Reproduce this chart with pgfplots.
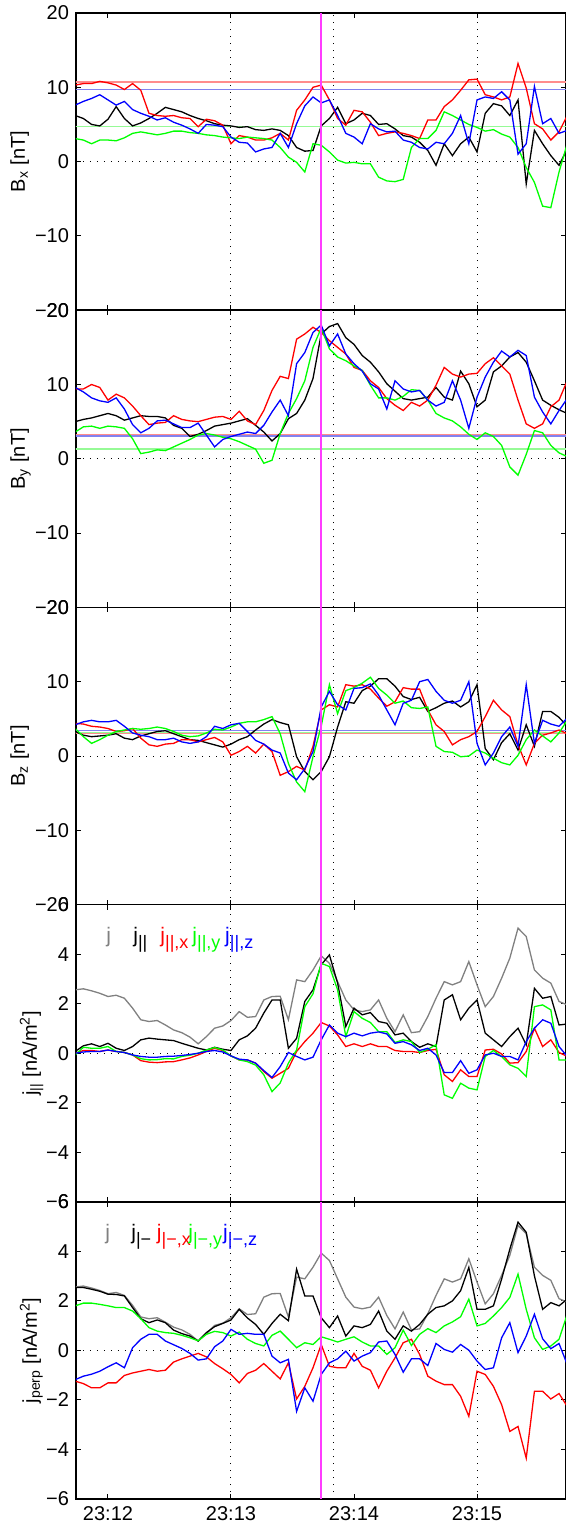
\documentclass[border=0pt]{standalone}
\usepackage{fontspec}
\setmainfont{Liberation Sans}
\usepackage{pgfplots}
\usepackage{pgfplotstable}
\pgfplotsset{compat=1.18}

\definecolor{mred}{RGB}{255,0,0}
\definecolor{mgreen}{RGB}{0,255,0}
\definecolor{mblue}{RGB}{0,0,255}
\definecolor{mgray}{RGB}{128,128,128}
\definecolor{mmag}{RGB}{255,60,255}
\definecolor{lred}{RGB}{255,140,140}
\definecolor{lblue}{RGB}{130,130,240}
\definecolor{lgreen}{RGB}{150,250,150}

% time in s after 23:12:00
\pgfplotstableread{
t k r g b
-16 6.2 10.3 3.1 7.6
-12 5.8 10.5 2.9 8.1
-8 5.0 10.5 2.4 8.5
-4 4.8 10.8 2.9 9.0
0 5.7 10.6 2.9 8.3
4 7.4 10.3 2.8 7.6
8 5.8 9.7 3.2 8.1
12 4.8 10.5 3.8 7.0
16 5.2 9.6 4.0 6.5
20 5.8 6.5 3.8 6.1
24 6.5 6.2 3.6 5.6
28 7.3 6.1 3.8 5.9
32 7.0 6.2 4.1 5.3
36 6.7 5.9 4.1 4.9
40 6.2 5.8 3.9 4.4
44 5.8 4.7 3.8 3.8
48 5.5 5.7 3.6 5.0
52 5.1 5.5 3.5 4.9
56 4.9 4.9 3.3 4.7
60 4.8 2.4 3.2 3.3
64 4.6 3.5 3.1 2.6
68 4.7 3.3 3.3 2.5
72 4.3 2.9 3.2 1.3
76 4.2 2.9 3.1 1.7
80 4.4 3.2 2.9 1.9
84 4.2 3.8 1.9 3.8
88 3.5 2.9 0.6 1.9
92 1.9 6.9 -0.1 5.1
96 1.4 8.3 -1.4 7.5
100 1.5 10.0 2.4 8.7
104 4.8 10.3 2.2 7.9
108 5.8 8.3 1.3 8.3
112 7.3 5.8 0.2 6.2
116 5.1 4.9 -0.2 3.8
120 5.6 6.9 -0.1 3.3
124 6.5 6.7 -0.3 2.4
128 6.2 5.3 -0.3 5.1
132 5.0 3.5 -2.1 4.4
136 5.1 3.8 -2.6 4.0
140 4.4 4.0 -2.7 4.1
144 3.5 3.8 -2.4 2.9
148 3.3 3.5 1.9 2.6
152 2.6 3.1 3.1 1.9
156 1.5 5.6 3.1 1.7
160 -0.5 5.6 4.2 2.6
164 2.4 7.4 6.7 2.4
168 0.8 8.3 6.2 3.8
172 2.4 9.6 5.6 6.2
176 3.3 11.0 5.0 2.4
180 1.3 11.1 4.6 8.3
184 6.5 9.0 4.1 8.7
188 7.8 8.7 4.3 8.5
192 7.5 8.3 3.7 9.4
196 6.2 8.7 3.3 8.3
200 8.3 13.2 1.9 1.0
204 -3.0 9.9 -0.8 2.4
208 4.2 5.1 -2.8 10.1
212 2.4 4.4 -6.0 5.1
216 0.8 2.9 -6.2 5.8
220 -0.5 4.0 -1.4 3.8
224 1.7 6.2 2.4 4.2
}\tabBx

\pgfplotstableread{
t k r g b
-16 5.0 9.4 3.6 9.6
-12 5.3 9.4 4.3 9.0
-8 5.5 10.0 4.4 8.2
-4 5.8 9.6 4.1 7.8
0 6.1 7.9 4.4 7.6
4 5.8 8.7 4.3 8.2
8 5.2 8.2 4.1 6.7
12 5.5 7.1 2.7 4.6
16 5.8 5.8 0.7 3.5
20 5.7 4.6 0.9 4.1
24 5.7 4.8 1.2 5.1
28 5.5 4.9 1.1 5.2
32 4.5 5.8 1.6 4.7
36 4.1 5.3 2.1 4.2
40 3.0 5.1 2.6 4.2
44 3.3 5.0 3.2 4.8
48 3.8 5.3 3.4 3.2
52 4.4 5.6 3.2 1.6
56 4.6 5.7 2.9 2.6
60 4.8 5.3 2.7 3.0
64 5.1 6.4 2.3 3.3
68 5.4 5.1 1.8 3.6
72 4.5 4.6 1.3 3.4
76 3.6 6.5 -0.6 4.5
80 2.4 9.2 -0.2 6.3
84 3.4 11.1 3.4 7.9
88 5.4 10.8 6.1 5.8
92 6.1 16.1 8.1 12.8
96 7.9 16.8 10.5 14.3
100 10.8 17.7 15.0 17.0
104 16.8 17.0 17.6 18.0
108 17.8 15.9 14.8 15.2
112 18.2 15.0 13.7 16.8
116 16.3 14.1 13.2 14.1
120 15.4 12.3 12.5 12.8
124 13.9 11.9 11.9 11.8
128 13.0 10.5 9.9 10.1
132 11.7 9.6 8.2 9.4
136 10.1 8.1 8.2 6.7
140 9.1 7.2 7.9 10.5
144 8.1 6.5 8.4 9.4
148 7.9 7.6 9.3 9.0
152 8.1 7.1 9.2 9.2
156 8.3 7.9 7.9 7.9
160 9.6 9.9 6.1 7.1
164 8.3 12.3 5.5 7.6
168 7.9 11.4 5.1 10.5
172 11.8 11.0 4.3 7.9
176 10.1 11.4 3.3 4.1
180 7.0 11.5 2.6 8.3
184 7.9 12.8 3.5 11.0
188 11.7 13.6 3.0 13.0
192 12.5 12.5 1.8 14.5
196 13.7 11.4 -1.1 13.7
200 14.3 7.9 -2.2 14.6
204 13.0 4.7 0.6 13.9
208 10.5 4.1 3.8 8.3
212 7.9 4.7 3.5 6.3
216 7.2 7.0 1.8 4.7
220 6.6 7.9 0.8 6.5
224 6.1 10.5 0.3 8.1
}\tabBy

\pgfplotstableread{
t k r g b
-16 3.3 4.4 3.7 4.2
-12 2.8 4.3 2.6 4.6
-8 2.6 4.0 1.7 4.8
-4 2.7 3.9 2.2 4.6
0 2.8 3.7 2.8 4.6
4 3.0 3.3 3.3 4.8
8 2.4 3.4 3.5 4.0
12 2.2 3.7 3.7 3.1
16 2.7 2.4 3.6 2.8
20 3.0 1.5 3.7 2.6
24 3.3 1.3 3.9 2.2
28 3.4 1.6 3.7 2.2
32 3.0 1.7 3.3 2.4
36 2.6 2.2 2.8 1.9
40 2.2 2.2 2.6 1.7
44 2.1 1.9 2.7 1.9
48 1.8 2.2 3.1 2.6
52 1.5 2.5 3.6 4.0
56 1.2 1.9 3.5 3.7
60 1.6 0.1 3.9 4.2
64 2.2 0.6 4.4 4.4
68 2.6 1.3 4.6 3.3
72 3.5 0.4 4.6 2.1
76 4.3 1.6 4.9 1.6
80 4.9 0.6 5.3 0.8
84 4.5 -2.6 3.0 0.4
88 4.2 -2.1 -1.0 -2.3
92 -0.1 -1.4 -3.5 -3.2
96 -2.1 -1.9 -4.8 -1.7
100 -3.2 1.3 -0.1 0.6
104 -2.1 6.2 4.0 6.6
108 -0.1 6.9 9.6 8.7
112 3.9 6.6 5.7 6.9
116 7.3 9.6 8.8 6.2
120 7.1 9.4 9.2 9.1
124 8.8 9.6 9.8 9.2
128 9.4 9.0 10.6 9.7
132 10.4 7.8 9.1 8.2
136 10.4 6.7 8.2 6.2
140 9.4 7.3 7.1 4.2
144 8.0 9.2 7.4 7.1
148 7.6 9.0 6.5 7.5
152 7.9 9.0 6.4 10.0
156 6.0 6.2 6.6 10.3
160 6.5 4.2 1.3 8.7
164 7.1 3.3 0.6 7.5
168 7.4 1.5 0.5 7.1
172 6.6 2.2 -0.1 7.5
176 7.3 2.6 0.0 10.0
180 9.6 3.3 0.8 1.7
184 1.0 5.3 0.4 -1.2
188 -0.5 7.5 -0.3 0.4
192 1.8 6.2 -0.9 2.6
196 3.0 5.3 -1.2 3.9
200 0.8 1.5 0.1 1.3
204 4.2 -1.2 2.2 9.6
208 1.3 1.7 3.5 1.7
212 6.0 2.8 2.7 4.8
216 6.0 3.1 1.9 4.3
220 5.2 3.5 3.1 4.0
224 4.0 3.0 4.8 5.1
}\tabBz

\pgfplotstableread{
t j k r g b
-16 2.56 0.07 0.00 -0.07 0.00
-12 2.60 0.30 0.11 0.24 0.05
-8 2.52 0.38 0.11 0.20 0.07
-4 2.42 0.27 0.07 0.20 0.07
0 2.29 0.40 0.13 0.27 0.13
4 2.34 0.20 0.07 0.07 0.07
8 2.22 0.11 0.03 0.03 0.03
12 1.82 0.27 -0.07 -0.07 -0.07
16 1.35 0.54 -0.30 -0.22 -0.13
20 1.28 0.61 -0.36 -0.27 -0.16
24 1.32 0.57 -0.38 -0.26 -0.16
28 1.14 0.54 -0.35 -0.22 -0.13
32 0.94 0.51 -0.34 -0.23 -0.12
36 0.83 0.40 -0.27 -0.13 -0.09
40 0.65 0.30 -0.19 -0.08 -0.05
44 0.38 0.20 -0.07 0.00 0.00
48 0.67 0.13 0.07 0.13 0.07
52 1.01 0.24 0.20 0.23 0.11
56 1.10 0.16 0.11 0.13 0.05
60 1.32 0.11 -0.11 -0.11 -0.11
64 1.68 0.54 -0.27 -0.27 -0.24
68 1.45 0.70 -0.27 -0.34 -0.27
72 1.48 1.01 -0.40 -0.48 -0.40
76 2.15 1.62 -0.74 -0.87 -0.70
80 2.29 2.15 -1.01 -1.55 -0.98
84 2.30 2.15 -0.81 -1.20 -0.54
88 1.35 0.20 -0.61 -0.40 0.03
92 2.96 0.60 0.07 0.13 -0.13
96 2.89 2.09 0.47 1.88 -0.27
100 3.36 2.56 0.81 2.40 -0.16
104 3.93 3.57 1.24 3.63 0.54
108 3.63 3.97 1.10 3.50 1.14
112 2.89 2.83 0.74 2.56 0.81
116 2.15 1.08 0.27 0.67 0.67
120 1.75 1.82 0.38 1.68 0.81
124 1.68 1.55 0.27 1.41 0.70
128 1.75 1.64 0.38 1.24 0.81
132 2.15 1.28 0.27 0.87 0.86
136 1.41 1.21 0.27 0.87 0.78
140 0.87 0.74 0.11 0.43 0.40
144 1.55 0.81 0.07 0.54 0.47
148 0.83 0.47 0.07 0.47 0.34
152 0.87 0.24 0.03 0.03 0.11
156 1.48 0.38 0.11 0.16 0.20
160 2.22 0.27 0.16 0.34 -0.07
164 2.89 2.15 -0.87 -1.68 -0.78
168 2.76 2.36 -1.14 -1.82 -0.78
172 2.89 1.35 -0.67 -1.21 -0.30
176 3.70 1.82 -0.94 -1.41 -0.81
180 2.76 2.15 -0.94 -1.48 -0.67
184 1.88 0.81 0.13 -0.13 -0.07
188 2.29 0.54 0.16 0.11 0.00
192 3.03 0.27 -0.03 -0.13 -0.13
196 3.84 0.67 -0.40 -0.47 -0.13
200 5.05 1.01 -0.38 -0.61 -0.27
204 4.71 0.34 0.07 -0.94 0.47
208 3.36 2.62 1.01 1.88 1.01
212 3.03 2.22 0.27 1.95 1.35
216 2.83 2.29 0.54 1.75 1.21
220 2.09 1.14 0.03 -0.27 0.27
224 1.95 1.18 -0.13 -0.27 -0.13
}\tabJpar

\pgfplotstableread{
t k r g b
-16 2.54 -1.24 1.80 -1.18
-12 2.54 -1.34 1.91 -1.04
-8 2.47 -1.51 1.91 -0.96
-4 2.39 -1.51 1.86 -0.84
0 2.27 -1.31 1.80 -0.66
4 2.26 -1.31 1.73 -0.50
8 2.20 -1.01 1.73 -0.70
12 1.73 -0.91 1.59 0.11
16 1.28 -0.84 1.28 0.45
20 1.12 -0.77 0.92 0.65
24 1.23 -0.84 0.78 0.65
28 1.12 -0.80 0.72 0.38
32 0.82 -0.47 0.69 0.23
36 0.68 -0.34 0.61 0.08
40 0.58 -0.23 0.51 -0.12
44 0.38 -0.12 0.39 -0.39
48 0.72 -0.26 0.65 -0.34
52 0.96 -0.53 0.77 0.15
56 1.09 -0.74 0.72 0.38
60 1.23 -0.97 0.58 0.85
64 1.66 -1.31 0.74 0.65
68 1.31 -0.93 0.45 0.69
72 1.05 -0.80 0.28 0.65
76 0.65 -0.53 0.18 0.65
80 1.09 -0.84 0.61 -0.23
84 1.46 -1.15 0.78 -0.50
88 1.20 -0.50 0.45 -0.36
92 3.28 -1.96 0.11 -2.46
96 2.20 -1.45 0.31 -1.51
100 2.20 -0.70 0.24 -2.05
104 1.32 0.24 0.55 -0.97
108 0.92 -0.64 0.45 -0.50
112 1.39 -0.70 0.34 -0.34
116 0.58 -0.70 0.45 -0.03
120 0.99 -0.12 0.55 -0.43
124 0.92 -0.64 0.34 -0.23
128 1.05 -0.80 0.18 -0.09
132 1.59 -1.51 0.18 0.34
136 0.78 -0.84 -0.16 0.38
140 0.45 -0.30 0.11 -0.16
144 0.99 0.31 0.82 -0.88
148 0.78 0.45 0.20 -0.34
152 1.05 -0.16 0.65 -0.34
156 1.46 -1.04 0.88 -0.61
160 1.73 -1.24 0.72 0.28
164 1.80 -1.38 0.99 0.04
168 2.00 -1.38 1.15 -0.07
172 2.41 -1.85 1.36 0.24
176 3.35 -2.66 2.07 0.01
180 1.66 -0.84 0.99 -0.43
184 1.66 -0.97 1.09 -0.77
188 1.80 -1.45 1.39 -0.70
192 2.88 -2.19 1.73 0.51
196 4.09 -3.27 2.14 1.12
200 5.18 -3.07 3.08 -0.09
204 4.77 -4.35 1.66 0.58
208 3.01 -1.65 0.51 1.46
212 1.66 -1.65 0.04 0.47
216 1.93 -1.96 0.18 0.07
220 1.80 -1.74 0.45 0.28
224 2.07 -2.26 1.46 -0.57
}\tabJperp

\newcommand{\lfont}{\fontsize{10}{12}\selectfont}
\newcommand{\lsub}[1]{\raisebox{-3pt}{\fontsize{9}{10}\selectfont #1}}

\tikzset{lab/.style={anchor=base west, inner sep=0pt, font=\fontsize{10.5}{12}\selectfont}}

\pgfplotsset{
  panel/.style={
    width=245pt, height=148.6pt, scale only axis, anchor=north west,
    xmin=-15.6, xmax=223.4,
    xtick={0,60,120,180}, xticklabels={},
    tick align=inside, major tick length=2.5pt,
    tick style={black, line width=0.5pt},
    axis line style={line width=0.8pt},
    extra x ticks={60,110,180}, extra x tick labels={},
    extra x tick style={grid=major, major tick length=0pt},
    extra y ticks={0}, extra y tick labels={},
    extra y tick style={grid=major, major tick length=0pt},
    major grid style={black, line width=0.5pt, dash pattern=on 0.5pt off 3pt},
    tick label style={font=\lfont},
    label style={font=\lfont},
    every axis plot/.append style={line width=0.65pt},
  },
  bpanel/.style={panel, ymin=-20, ymax=20, ytick={-20,-10,0,10,20},
    yticklabels={−20,−10,0,10,20},
    ylabel style={at={([xshift=-25.5pt]axis description cs:0,0.5)}, anchor=base}},
  jpanel/.style={panel, ymin=-6, ymax=6, ytick={-6,-4,-2,0,2,4,6},
    yticklabels={−6,−4,−2,0,2,4,6},
    ylabel style={at={([xshift=-19.5pt]axis description cs:0,0.5)}, anchor=base}},
  refl/.style={line width=0.7pt},
  magl/.style={mmag, line width=0.9pt},
}

\begin{document}
\begin{tikzpicture}

\begin{axis}[bpanel, at={(0pt,0pt)}, ylabel={B\textsubscript{x} [nT]}]
\addplot[lred, refl] coordinates {(-20,10.7) (230,10.7)};
\addplot[lblue, refl] coordinates {(-20,9.7) (230,9.7)};
\addplot[lgreen, refl] coordinates {(-20,4.7) (230,4.7)};
\addplot[black] table[x=t,y=k] {\tabBx};
\addplot[mred] table[x=t,y=r] {\tabBx};
\addplot[mgreen] table[x=t,y=g] {\tabBx};
\addplot[mblue] table[x=t,y=b] {\tabBx};
\addplot[magl] coordinates {(104,-20) (104,20)};
\end{axis}

\begin{axis}[bpanel, at={(0pt,-148.6pt)}, ylabel={B\textsubscript{y} [nT]}]
\addplot[lred, refl] coordinates {(-20,3.25) (230,3.25)};
\addplot[lblue, refl] coordinates {(-20,3.05) (230,3.05)};
\addplot[lgreen, refl] coordinates {(-20,1.3) (230,1.3)};
\addplot[black] table[x=t,y=k] {\tabBy};
\addplot[mred] table[x=t,y=r] {\tabBy};
\addplot[mgreen] table[x=t,y=g] {\tabBy};
\addplot[mblue] table[x=t,y=b] {\tabBy};
\addplot[magl] coordinates {(104,-20) (104,20)};
\end{axis}

\begin{axis}[bpanel, at={(0pt,-297.2pt)}, ylabel={B\textsubscript{z} [nT]}]
\addplot[lred, refl] coordinates {(-20,3.1) (230,3.1)};
\addplot[lgreen, refl] coordinates {(-20,3.2) (230,3.2)};
\addplot[lblue, refl] coordinates {(-20,3.4) (230,3.4)};
\addplot[black] table[x=t,y=k] {\tabBz};
\addplot[mred] table[x=t,y=r] {\tabBz};
\addplot[mgreen] table[x=t,y=g] {\tabBz};
\addplot[mblue] table[x=t,y=b] {\tabBz};
\addplot[magl] coordinates {(104,-20) (104,20)};
\end{axis}

\begin{axis}[jpanel, at={(0pt,-445.8pt)}, ylabel={j\textsubscript{||} [nA/m\textsuperscript{2}]}]
\addplot[mgray] table[x=t,y=j] {\tabJpar};
\addplot[black] table[x=t,y=k] {\tabJpar};
\addplot[mred] table[x=t,y=r] {\tabJpar};
\addplot[mgreen] table[x=t,y=g] {\tabJpar};
\addplot[mblue] table[x=t,y=b] {\tabJpar};
\addplot[magl] coordinates {(104,-6) (104,6)};
\node[lab, text=mgray] at (axis cs:-1.0,4.48) {j};
\node[lab, text=black] at (axis cs:12.2,4.48) {j\lsub{||}};
\node[lab, text=mred] at (axis cs:25.4,4.48) {j\lsub{||,x}};
\node[lab, text=mgreen] at (axis cs:41,4.48) {j\lsub{||,y}};
\node[lab, text=mblue] at (axis cs:57,4.48) {j\lsub{||,z}};
\end{axis}

\begin{axis}[jpanel, at={(0pt,-594.4pt)}, ylabel={j\textsubscript{perp} [nA/m\textsuperscript{2}]},
  xticklabels={23:12,23:13,23:14,23:15}]
\addplot[mgray] table[x=t,y=j] {\tabJpar};
\addplot[black] table[x=t,y=k] {\tabJperp};
\addplot[mred] table[x=t,y=r] {\tabJperp};
\addplot[mgreen] table[x=t,y=g] {\tabJperp};
\addplot[mblue] table[x=t,y=b] {\tabJperp};
\addplot[magl] coordinates {(104,-6) (104,6)};
\node[lab, text=mgray] at (axis cs:-1.5,4.48) {j};
\node[lab, text=black] at (axis cs:11.2,4.48) {j\lsub{|−}};
\node[lab, text=mred] at (axis cs:23.7,4.48) {j\lsub{|−,x}};
\node[lab, text=mgreen] at (axis cs:39,4.48) {j\lsub{|−,y}};
\node[lab, text=mblue] at (axis cs:56,4.48) {j\lsub{|−,z}};
\end{axis}

\pgfresetboundingbox
\path[use as bounding box] (-38pt,6.5pt) rectangle (244.8pt,-758.5pt);
\end{tikzpicture}
\end{document}
